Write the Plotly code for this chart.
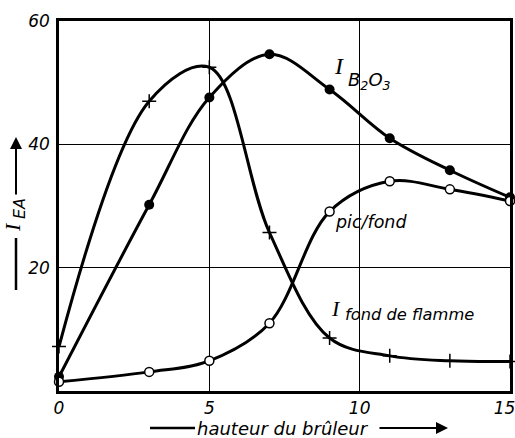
import plotly.graph_objects as go

# data
hauteur = [0, 3, 5, 7, 9, 11, 13, 15]
i_fond_flamme = [7.2, 47.0, 52.5, 25.7, 8.6, 5.7, 4.9, 4.8]
i_b2o3 = [2.3, 30.2, 47.6, 54.6, 48.9, 41.0, 35.8, 31.4]
pic_fond = [1.5, 3.1, 4.9, 11.0, 29.1, 34.0, 32.7, 30.8]
x_ticks = [0, 5, 10, 15]
y_ticks = [20, 40, 60]

FONT = "DejaVu Sans"
SERIF = "Liberation Serif"


def f(size, family=FONT):
    return dict(family=family, size=size, color="black", style="italic")


fig = go.Figure()
fig.add_trace(go.Scatter(
    x=hauteur, y=i_fond_flamme, mode="lines+markers",
    line=dict(color="black", width=3, shape="spline", smoothing=1.0),
    marker=dict(symbol="cross-thin", size=10, color="black",
                line=dict(color="black", width=1.5)),
    cliponaxis=False, showlegend=False))
fig.add_trace(go.Scatter(
    x=hauteur, y=i_b2o3, mode="lines+markers",
    line=dict(color="black", width=3, shape="spline", smoothing=1.0),
    marker=dict(symbol="circle", size=10, color="black"),
    cliponaxis=False, showlegend=False))
fig.add_trace(go.Scatter(
    x=hauteur, y=pic_fond, mode="lines+markers",
    line=dict(color="black", width=3, shape="spline", smoothing=1.0),
    marker=dict(symbol="circle", size=9, color="white",
                line=dict(color="black", width=1.5)),
    cliponaxis=False, showlegend=False))

# curve labels
fig.add_annotation(x=9.31, y=52.7, xanchor="center", yanchor="middle", showarrow=False,
                   text="I", font=f(24, SERIF))
fig.add_annotation(x=9.55, y=50.2, xanchor="left", yanchor="middle", showarrow=False,
                   text="B<sub>2</sub>O<sub>3</sub>", font=f(18))
fig.add_annotation(x=9.1, y=27.4, xanchor="left", yanchor="middle", showarrow=False,
                   text="pic/fond", font=f(17.5))
fig.add_annotation(x=9.2, y=13.4, xanchor="center", yanchor="middle", showarrow=False,
                   text="I", font=f(22, SERIF))
fig.add_annotation(x=9.45, y=12.4, xanchor="left", yanchor="middle", showarrow=False,
                   text="fond de flamme", font=f(16.3))

# x axis title with arrow
fig.add_shape(type="line", xref="paper", yref="paper",
              x0=(150 - 59) / 451, x1=(195 - 59) / 451, y0=-0.1, y1=-0.1,
              line=dict(color="black", width=2.5))
fig.add_annotation(xref="paper", yref="paper", x=(283 - 59) / 451, y=-0.1,
                   xanchor="center", yanchor="middle",
                   showarrow=False, text="hauteur du brûleur", font=f(18))
fig.add_annotation(xref="x domain", yref="y domain", axref="x domain", ayref="y domain",
                   x=(448 - 59) / 451, y=-0.1, ax=(378 - 59) / 451, ay=-0.1,
                   text="", showarrow=True, arrowhead=2, arrowsize=1.2,
                   arrowwidth=2, arrowcolor="black")

# y axis title with arrow
fig.add_shape(type="line", xref="paper", yref="paper",
              x0=(16 - 59) / 451, x1=(16 - 59) / 451,
              y0=(391 - 290) / 370, y1=(391 - 238) / 370,
              line=dict(color="black", width=2.5))
fig.add_annotation(xref="x domain", yref="y domain", axref="x domain", ayref="y domain",
                   x=(16 - 59) / 451, y=(391 - 137) / 370,
                   ax=(16 - 59) / 451, ay=(391 - 196) / 370,
                   text="", showarrow=True, arrowhead=2, arrowsize=1.2,
                   arrowwidth=2, arrowcolor="black")
fig.add_annotation(xref="paper", yref="paper", x=(12 - 59) / 451, y=(391 - 227) / 370,
                   xanchor="center", yanchor="middle",
                   showarrow=False, text="I", textangle=-90, font=f(22, SERIF))
fig.add_annotation(xref="paper", yref="paper", x=(20 - 59) / 451, y=(391 - 209) / 370,
                   xanchor="center", yanchor="middle",
                   showarrow=False, text="EA", textangle=-90, font=f(16))

x_labels = [str(v) for v in x_ticks]
x_labels[-1] = x_labels[-1] + "\u00a0\u00a0"

fig.update_xaxes(range=[0, 15], tickvals=x_ticks, ticktext=x_labels,
                 showgrid=True, gridcolor="black", gridwidth=1.2,
                 showline=True, linecolor="black", linewidth=2.5, mirror=True,
                 zeroline=False, ticks="", ticklabelstandoff=0,
                 ticklabeloverflow="allow", automargin=False,
                 tickfont=f(17))
fig.update_yaxes(range=[0, 60], tickvals=y_ticks, ticktext=[str(v) for v in y_ticks],
                 showgrid=True, gridcolor="black", gridwidth=1.2,
                 showline=True, linecolor="black", linewidth=2.5, mirror=True,
                 zeroline=False, ticks="", ticklabelstandoff=3, automargin=False,
                 tickfont=f(17))

fig.update_layout(width=515, height=438,
                  margin=dict(l=59, r=5, t=21, b=47),
                  paper_bgcolor="white", plot_bgcolor="white")

fig.write_html("out.html")
